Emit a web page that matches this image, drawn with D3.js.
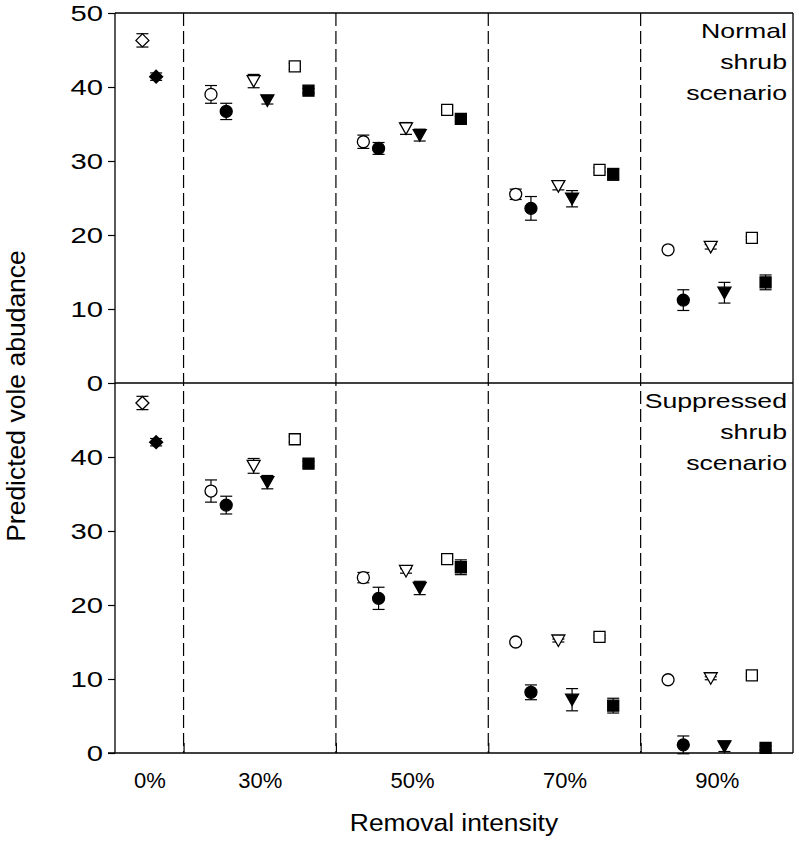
<!DOCTYPE html>
<html><head><meta charset="utf-8">
<script src="https://cdn.jsdelivr.net/npm/d3@7"></script>
<style>
body{margin:0;background:#fff}
text{font-family:"Liberation Sans",Arial,sans-serif;fill:#000}
</style>
</head><body>
<svg id="chart" width="799" height="843"></svg>
<script>
// ---------------- DATA ----------------
const categories = ["0%", "30%", "50%", "70%", "90%"];
const yTickValuesTop = [0, 10, 20, 30, 40, 50];
const yTickValuesBottom = [0, 10, 20, 30, 40];
const panelNames = ["Normal shrub scenario", "Suppressed shrub scenario"];
const xTitle = "Removal intensity";
const yTitle = "Predicted vole abudance";

// 0% (control) values: open diamond, filled diamond
const normalControl = [46.3, 41.4];
const normalControlErr = [0.9, 0.5];
const suppressedControl = [47.3, 42.0];
const suppressedControlErr = [0.9, 0.5];

// Treatment series at 30%, 50%, 70%, 90%
const normalOpenCircle = [39.0, 32.6, 25.5, 18.0];
const normalOpenCircleErr = [1.2, 0.9, 0.7, 0.3];
const normalFilledCircle = [36.7, 31.7, 23.6, 11.2];
const normalFilledCircleErr = [1.1, 0.8, 1.6, 1.4];
const normalOpenTriangle = [40.8, 34.4, 26.6, 18.4];
const normalOpenTriangleErr = [0.9, 0.8, 0.5, 0.3];
const normalFilledTriangle = [38.2, 33.5, 24.9, 12.2];
const normalFilledTriangleErr = [0.5, 0.8, 1.1, 1.4];
const normalOpenSquare = [42.8, 36.9, 28.8, 19.6];
const normalOpenSquareErr = [0.4, 0.5, 0.3, 0.2];
const normalFilledSquare = [39.5, 35.7, 28.2, 13.6];
const normalFilledSquareErr = [0.3, 0.3, 0.8, 1.0];

const suppressedOpenCircle = [35.4, 23.7, 15.0, 9.9];
const suppressedOpenCircleErr = [1.5, 0.7, 0.2, 0.2];
const suppressedFilledCircle = [33.5, 20.9, 8.2, 1.1];
const suppressedFilledCircleErr = [1.2, 1.5, 1.0, 1.2];
const suppressedOpenTriangle = [38.8, 24.6, 15.2, 10.1];
const suppressedOpenTriangleErr = [1.0, 0.3, 0.2, 0.2];
const suppressedFilledTriangle = [36.6, 22.3, 7.2, 0.9];
const suppressedFilledTriangleErr = [0.9, 0.9, 1.5, 0.7];
const suppressedOpenSquare = [42.4, 26.2, 15.7, 10.5];
const suppressedOpenSquareErr = [0.4, 0.3, 0.2, 0.2];
const suppressedFilledSquare = [39.1, 25.1, 6.4, 0.7];
const suppressedFilledSquareErr = [0.3, 1.0, 1.0, 0.3];

// ---------------- LAYOUT / STYLE ----------------
const L = 115, R = 793, T = 13, MID = 383, B = 753;
const seriesStyle = [
  {shape: "circle", filled: false, off: 0.18},
  {shape: "circle", filled: true, off: 0.28},
  {shape: "triangle", filled: false, off: 0.46},
  {shape: "triangle", filled: true, off: 0.55},
  {shape: "square", filled: false, off: 0.73},
  {shape: "square", filled: true, off: 0.82}
];
const controlStyle = [
  {shape: "diamond", filled: false, off: 0.73},
  {shape: "diamond", filled: true, off: 0.82}
];

const panels = [
  {name: panelNames[0], control: normalControl, controlErr: normalControlErr,
   series: [[normalOpenCircle, normalOpenCircleErr], [normalFilledCircle, normalFilledCircleErr],
            [normalOpenTriangle, normalOpenTriangleErr], [normalFilledTriangle, normalFilledTriangleErr],
            [normalOpenSquare, normalOpenSquareErr], [normalFilledSquare, normalFilledSquareErr]],
   range: [MID, T], ticks: yTickValuesTop},
  {name: panelNames[1], control: suppressedControl, controlErr: suppressedControlErr,
   series: [[suppressedOpenCircle, suppressedOpenCircleErr], [suppressedFilledCircle, suppressedFilledCircleErr],
            [suppressedOpenTriangle, suppressedOpenTriangleErr], [suppressedFilledTriangle, suppressedFilledTriangleErr],
            [suppressedOpenSquare, suppressedOpenSquareErr], [suppressedFilledSquare, suppressedFilledSquareErr]],
   range: [B, MID], ticks: yTickValuesBottom}
];

const svg = d3.select("#chart");
const x = d3.scaleLinear().domain([0.55, 5]).range([L, R]);

// dashed separators
const boundaries = d3.range(1, categories.length);
svg.append("g").selectAll("line").data(boundaries).join("line")
  .attr("x1", d => x(d)).attr("x2", d => x(d))
  .attr("y1", T).attr("y2", B)
  .attr("stroke", "#000").attr("stroke-width", 1.2)
  .attr("stroke-dasharray", "13,5");

function shapePath(shape, cx, cy) {
  const p = d3.path();
  if (shape === "circle") { p.moveTo(cx + 6, cy); p.arc(cx, cy, 6, 0, 2 * Math.PI); }
  else if (shape === "square") { p.rect(cx - 5.5, cy - 5.5, 11, 11); }
  else if (shape === "triangle") { p.moveTo(cx - 6.5, cy - 5.5); p.lineTo(cx + 6.5, cy - 5.5); p.lineTo(cx, cy + 6); p.closePath(); }
  else if (shape === "diamond") { p.moveTo(cx, cy - 6.5); p.lineTo(cx + 6.5, cy); p.lineTo(cx, cy + 6.5); p.lineTo(cx - 6.5, cy); p.closePath(); }
  return p.toString();
}

panels.forEach((panel, pi) => {
  const y = d3.scaleLinear().domain([0, 50]).range(panel.range);
  const pts = [];
  panel.control.forEach((v, i) => pts.push({x: 0 + controlStyle[i].off, v, e: panel.controlErr[i], st: controlStyle[i]}));
  panel.series.forEach(([vals, errs], si) => {
    vals.forEach((v, k) => pts.push({x: (k + 1) + seriesStyle[si].off, v, e: errs[k], st: seriesStyle[si]}));
  });
  const g = svg.append("g");
  // error bars
  const eb = g.append("g").attr("stroke", "#000").attr("stroke-width", 1.2);
  pts.forEach(d => {
    const cx = x(d.x);
    eb.append("line").attr("x1", cx).attr("x2", cx).attr("y1", y(d.v - d.e)).attr("y2", y(d.v + d.e));
    [d.v - d.e, d.v + d.e].forEach(w => {
      eb.append("line").attr("x1", cx - 6).attr("x2", cx + 6).attr("y1", y(w)).attr("y2", y(w));
    });
  });
  // markers
  g.append("g").selectAll("path").data(pts).join("path")
    .attr("d", d => shapePath(d.st.shape, x(d.x), y(d.v)))
    .attr("fill", d => d.st.filled ? "#000" : "#fff")
    .attr("stroke", "#000").attr("stroke-width", 1.3);

  // y axis
  const ax = svg.append("g").attr("transform", `translate(${L},0)`)
    .call(d3.axisLeft(y).tickValues(panel.ticks).tickSize(7).tickFormat(d3.format("d")));
  ax.select(".domain").remove();
  ax.selectAll(".tick line").attr("stroke", "#000").attr("stroke-width", 1.2);
  ax.selectAll(".tick text").attr("x", null).attr("dy", "0.36em")
    .attr("transform", "translate(-12,0) scale(1.33,1)")
    .style("font-size", "22px").attr("font-family", null);

  // panel label
  const lines = panel.name.split(" ");
  const top = panel.range[1];
  svg.append("g").selectAll("text").data(lines).join("text")
    .attr("text-anchor", "end")
    .attr("transform", (d, i) => `translate(787,${top + 25 + i * 31}) scale(1.27,1)`)
    .style("font-size", "21px").text(d => d);
});

// frame
const frame = svg.append("g").attr("stroke", "#000").attr("stroke-width", 1.3).attr("fill", "none");
frame.append("line").attr("x1", L).attr("x2", R).attr("y1", T).attr("y2", T);
frame.append("line").attr("x1", R).attr("x2", R).attr("y1", T).attr("y2", B);
frame.append("line").attr("x1", L).attr("x2", R).attr("y1", MID).attr("y2", MID);
frame.append("line").attr("x1", L).attr("x2", L).attr("y1", T).attr("y2", B);

// x axis: boundary ticks
const xb = svg.append("g").attr("transform", `translate(0,${B})`)
  .call(d3.axisBottom(x).tickValues(boundaries).tickSize(-10).tickFormat(""));
xb.select(".domain").attr("d", `M${L - 7},0H${R}`).attr("stroke", "#000").attr("stroke-width", 1.3);
xb.selectAll(".tick line").attr("stroke", "#000").attr("stroke-width", 1.2);

// x axis: category labels at section centers
const centers = categories.map((c, i) => i === 0 ? (x.domain()[0] + 1) / 2 : i + 0.5);
const xl = svg.append("g").attr("transform", `translate(0,${B})`)
  .call(d3.axisBottom(x).tickValues(centers).tickSize(0).tickPadding(19)
    .tickFormat((d, i) => categories[i]));
xl.select(".domain").remove();
xl.selectAll(".tick text").style("font-size", "22px").attr("font-family", null);

// axis titles
svg.append("text").attr("text-anchor", "middle")
  .attr("transform", `translate(${(L + R) / 2},831) scale(1.1,1)`)
  .style("font-size", "24px").text(xTitle);
svg.append("text").attr("text-anchor", "middle")
  .attr("transform", "translate(25,396) rotate(-90)")
  .style("font-size", "26.5px").text(yTitle);
</script>
</body></html>
